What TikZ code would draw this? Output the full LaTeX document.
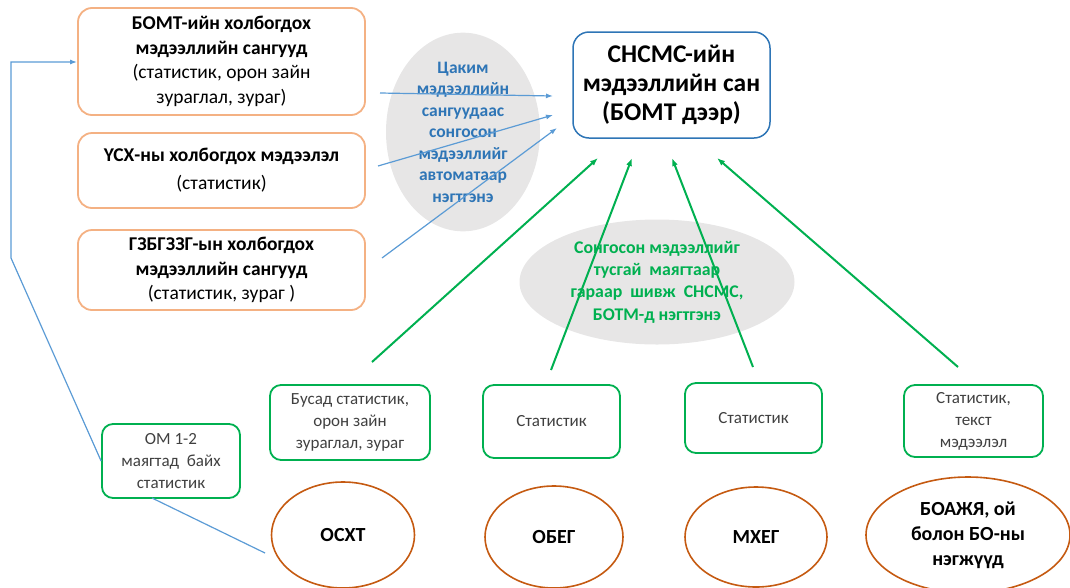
\documentclass[tikz,border=0pt]{standalone}
\usepackage{fontspec}
\setmainfont{Carlito}
\usetikzlibrary{arrows.meta,shapes.geometric}
\definecolor{orgline}{HTML}{F4B183}
\definecolor{bluebox}{HTML}{2E75B6}
\definecolor{bluearr}{HTML}{5B9BD5}
\definecolor{grn}{HTML}{00B050}
\definecolor{brn}{HTML}{C55A11}
\definecolor{grayfill}{HTML}{E7E6E6}
\definecolor{bluetxt}{HTML}{2E75B6}
\definecolor{gtxt}{HTML}{404040}
\tikzset{
  srcbox/.style={draw=orgline,line width=1.8pt,rounded corners=14pt,align=center,inner sep=0pt,
    font=\fontsize{19.5}{24.5}\selectfont},
  mainbox/.style={draw=bluebox,line width=1.5pt,rounded corners=16pt,align=center,inner sep=0pt,
    font=\fontsize{25.5}{29}\selectfont\bfseries},
  grnbox/.style={draw=grn,line width=1.8pt,rounded corners=11pt,align=center,inner sep=0pt,
    text=gtxt,font=\fontsize{17}{22}\selectfont},
  orgell/.style={ellipse,draw=brn,line width=1.6pt,align=center,inner sep=0pt,
    font=\fontsize{20}{25}\selectfont\bfseries},
  grayell/.style={ellipse,fill=grayfill,draw=none,align=center,inner sep=0pt,
    font=\fontsize{17.5}{21.5}\selectfont\bfseries},
  barrow/.style={draw=bluearr,line width=1.2pt,-{Latex[length=7pt,width=5pt]}},
  garrow/.style={draw=grn,line width=2pt,-{Latex[length=8pt,width=6pt]}},
  bline/.style={draw=bluearr,line width=1.2pt},
}
\begin{document}
\begin{tikzpicture}[x=1pt,y=-1pt]
\useasboundingbox (0,0) rectangle (1070,587);
% gray ellipses
\node[grayell,minimum width=154pt,minimum height=185pt,text=bluetxt] (e1) at (463,132)
  {Цаким\\мэдээллийн\\сангуудаас\\сонгосон\\мэдээллийг\\автоматаар\\нэгтгэнэ};
\node[grayell,minimum width=275pt,minimum height=125pt,text=grn,font=\fontsize{17.8}{22.3}\selectfont\bfseries] (e2) at (657,282)
  {Сонгосон мэдээллийг\\тусгай\ \ маягтаар\\гараар\ \ шивж\ \ СНСМС,\\БОТМ-д нэгтгэнэ};
% source boxes
\node[srcbox,minimum width=287pt,minimum height=107pt] (b1) at (221.5,61.5)
  {\textbf{БОМТ-ийн холбогдох}\\\textbf{мэдээллийн сангууд}\\(статистик, орон зайн\\зураглал, зураг)};
\node[srcbox,minimum width=287pt,minimum height=75pt,font=\fontsize{19.5}{28}\selectfont] (b2) at (221.5,170.5)
  {\textbf{ҮСХ-ны холбогдох мэдээлэл}\\(статистик)};
\node[srcbox,minimum width=287pt,minimum height=80pt] (b3) at (221.5,270)
  {\textbf{ГЗБГЗЗГ-ын холбогдох}\\\textbf{мэдээллийн сангууд}\\(статистик, зураг )};
% main box
\node[mainbox,minimum width=197pt,minimum height=106pt] (m) at (671.5,85)
  {СНСМС-ийн\\мэдээллийн сан\\(БОМТ дээр)};
% green boxes
\node[grnbox,minimum width=138pt,minimum height=74pt] (om) at (171,461)
  {ОМ 1-2\\маягтад\ \ байх\\статистик};
\node[grnbox,minimum width=160pt,minimum height=75pt] (g1) at (350,422.5)
  {Бусад статистик,\\орон зайн\\зураглал, зураг};
\node[grnbox,minimum width=137pt,minimum height=73pt] (g2) at (551.5,421.5) {Статистик};
\node[grnbox,minimum width=137pt,minimum height=70pt] (g3) at (753.5,418) {Статистик};
\node[grnbox,minimum width=139pt,minimum height=72pt] (g4) at (973.5,421)
  {Статистик,\\текст\\мэдээлэл};
% organisation ellipses
\node[orgell,minimum width=143pt,minimum height=106pt] (o1) at (343,535) {ОСХТ};
\node[orgell,minimum width=138pt,minimum height=102pt] (o2) at (554,537) {ОБЕГ};
\node[orgell,minimum width=142pt,minimum height=100pt] (o3) at (756,537) {МХЕГ};
\node[orgell,minimum width=204pt,minimum height=116pt] (o4) at (968,535) {БОАЖЯ, ой\\болон БО-ны\\нэгжүүд};
% arrow coordinates
\coordinate (ba1s) at (380,93);  \coordinate (ba1e) at (553,96);
\coordinate (ba2s) at (378,166); \coordinate (ba2e) at (553,115);
\coordinate (ba3s) at (382,258); \coordinate (ba3e) at (557,128);
\coordinate (ga1s) at (372,362); \coordinate (ga1e) at (598,158);
\coordinate (ga2s) at (551,370); \coordinate (ga2e) at (632,158);
\coordinate (ga3s) at (753,367); \coordinate (ga3e) at (672,158);
\coordinate (ga4s) at (958,367); \coordinate (ga4e) at (717,158);
\coordinate (c1) at (11,258);
\coordinate (c2) at (11,62);
\coordinate (o1w) at (265,553);
\coordinate (omb) at (152,498);
% blue arrows
\draw[barrow] (ba1s) -- (ba1e);
\draw[barrow] (ba2s) -- (ba2e);
\draw[barrow] (ba3s) -- (ba3e);
% green arrows
\draw[garrow] (ga1s) -- (ga1e);
\draw[garrow] (ga2s) -- (ga2e);
\draw[garrow] (ga3s) -- (ga3e);
\draw[garrow] (ga4s) -- (ga4e);
% feedback line
\draw[bline] (o1w) -- (omb);
\draw[barrow] (om.west) -- (c1) -- (c2) -- (b1.west |- c2);
\end{tikzpicture}
\end{document}
